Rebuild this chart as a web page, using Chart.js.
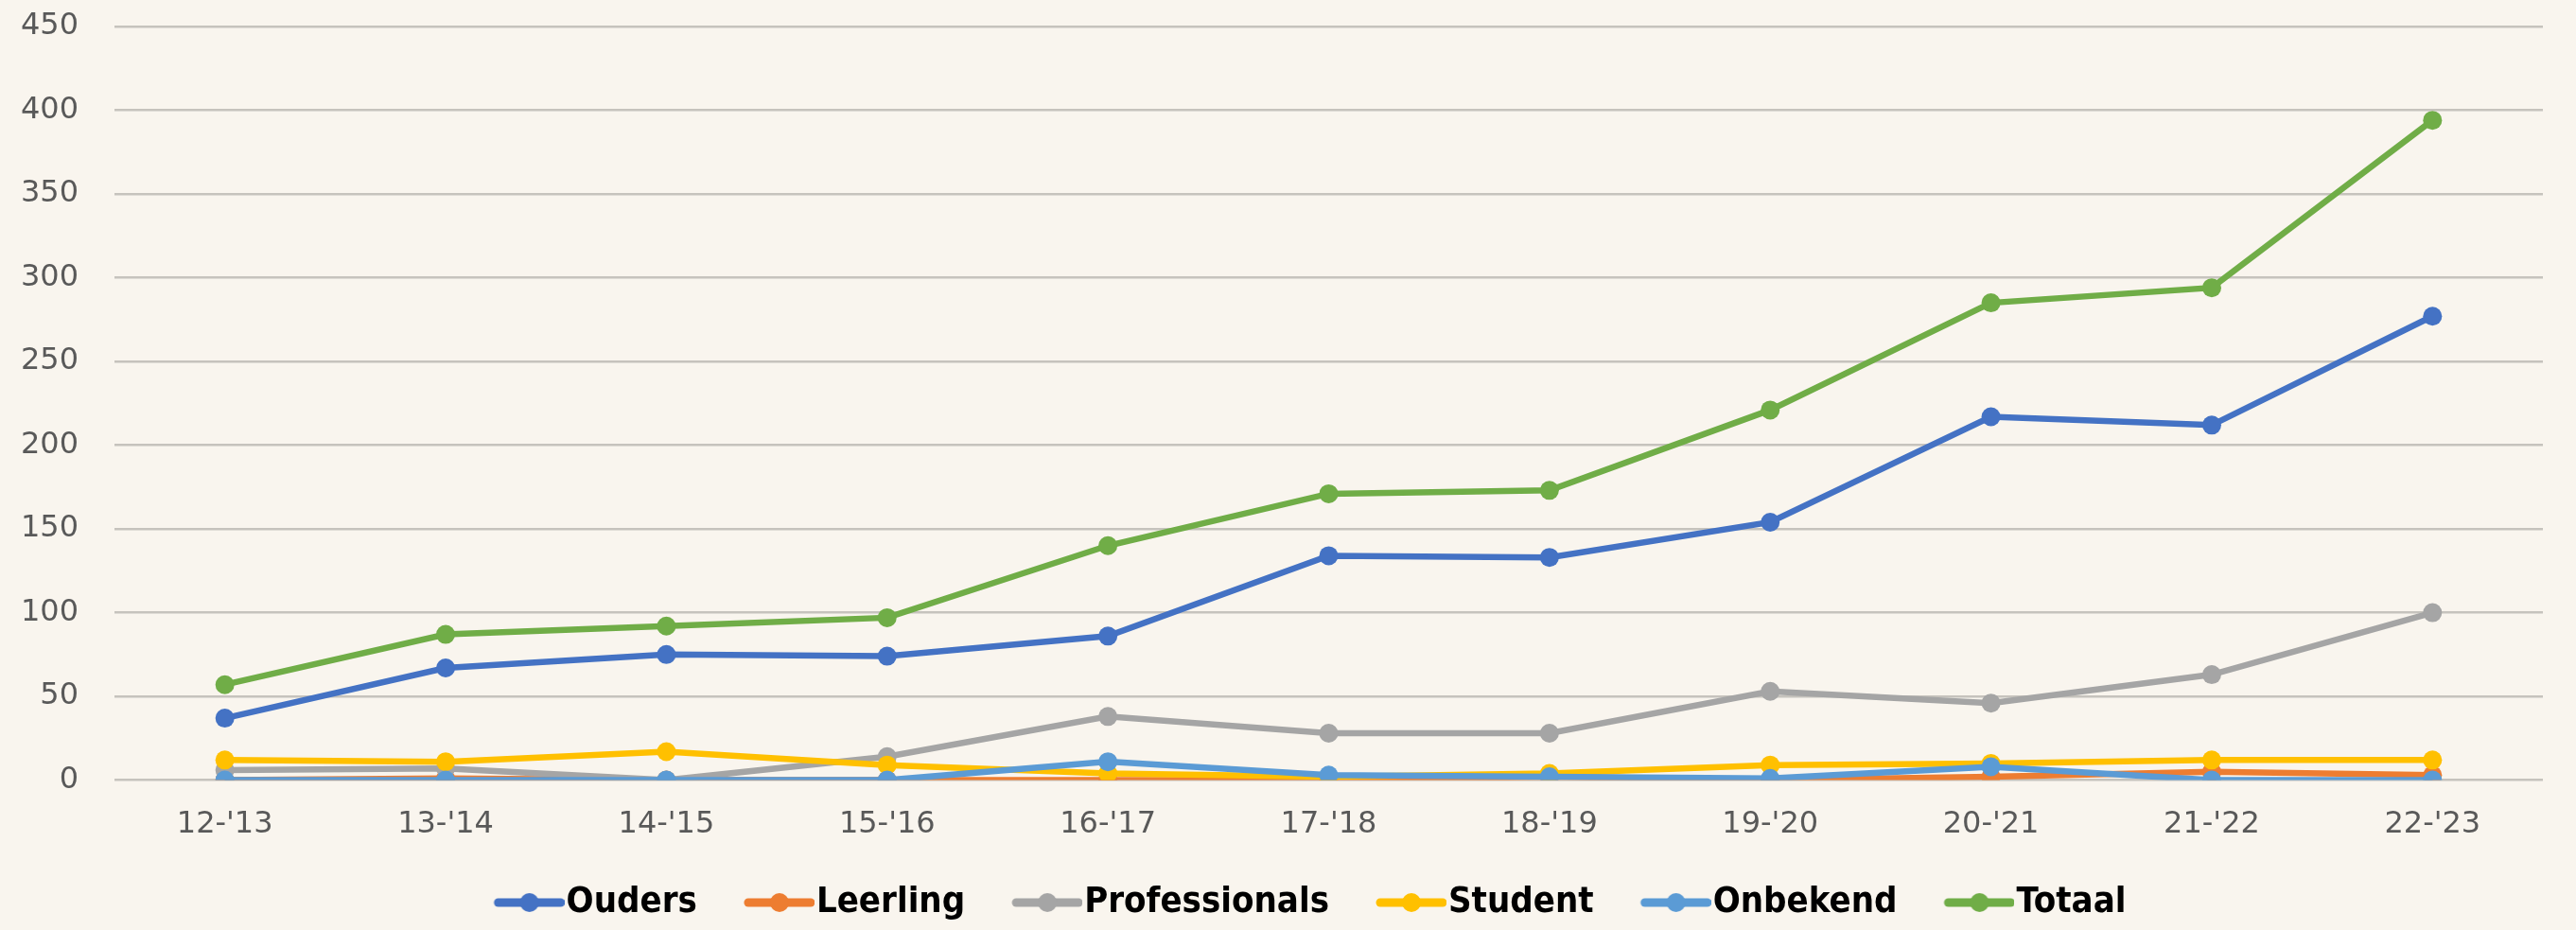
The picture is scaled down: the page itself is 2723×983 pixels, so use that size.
<!DOCTYPE html>
<html>
<head>
<meta charset="utf-8">
<script src="https://cdn.jsdelivr.net/npm/chart.js@4.4.1/dist/chart.umd.min.js"></script>
<style>
  html, body { margin: 0; padding: 0; background: #f9f5ee; }
  #wrap { width: 2723px; height: 983px; }
</style>
</head>
<body>
<div id="wrap"><canvas id="grafiek"></canvas></div>
<script>
// schooljaren
const jaren = ["12-'13", "13-'14", "14-'15", "15-'16", "16-'17", "17-'18", "18-'19", "19-'20", "20-'21", "21-'22", "22-'23"];

const ouders        = [37, 67, 75, 74, 86, 134, 133, 154, 217, 212, 277];
const leerling      = [0, 1, 0, 0, 0, 0, 2, 0, 2, 5, 3];
const professionals = [6, 7, 0, 14, 38, 28, 28, 53, 46, 63, 100];
const student       = [12, 11, 17, 9, 4, 2, 4, 9, 10, 12, 12];
const onbekend      = [0, 0, 0, 0, 11, 3, 2, 1, 8, 0, 0];
const totaal        = [57, 87, 92, 97, 140, 171, 173, 221, 285, 294, 394];

const yTicks = { min: 0, max: 450, step: 50 };

const reeksen = [
  { naam: 'Ouders', data: ouders, kleur: '#4472c4' },
  { naam: 'Leerling', data: leerling, kleur: '#ed7d31' },
  { naam: 'Professionals', data: professionals, kleur: '#a5a5a5' },
  { naam: 'Student', data: student, kleur: '#ffc000' },
  { naam: 'Onbekend', data: onbekend, kleur: '#5b9bd5' },
  { naam: 'Totaal', data: totaal, kleur: '#70ad47' }
];

// legend symbool: lijn met punt, lege ruimte links geeft de afstand tussen items
const LEG_FONT = 38;
const LEG_LEEG = 34;
const LEG_LIJN = 74;
const LEG_BOX = LEG_LEEG + LEG_LIJN + 2 - LEG_FONT / 2;
function maakSymbool(kleur) {
  const eind = LEG_BOX + LEG_FONT / 2 - 2;
  const half = eind - LEG_BOX / 2;
  const c = document.createElement('canvas');
  c.width = Math.round(half * 2);
  c.height = 24;
  const g = c.getContext('2d');
  const x1 = c.width, x0 = x1 - LEG_LIJN;
  g.strokeStyle = kleur;
  g.lineWidth = 9;
  g.lineCap = 'round';
  g.beginPath(); g.moveTo(x0 + 4, 12); g.lineTo(x1 - 4, 12); g.stroke();
  g.fillStyle = kleur;
  g.beginPath(); g.arc((x0 + x1) / 2, 12, 10, 0, Math.PI * 2); g.fill();
  return c;
}

const achtergrond = {
  id: 'achtergrond',
  beforeDraw(chart) {
    const ctx = chart.ctx;
    ctx.save();
    ctx.fillStyle = '#f9f5ee';
    ctx.fillRect(0, 0, chart.width, chart.height);
    ctx.restore();
  }
};

// legenda iets naar rechts, zoals in het origineel
const legendaSchuif = {
  id: 'legendaSchuif',
  afterLayout(chart) {
    if (chart.legend) {
      chart.legend.left += 24;
      chart.legend.right += 24;
    }
  }
};

new Chart(document.getElementById('grafiek'), {
  type: 'line',
  data: {
    labels: jaren,
    datasets: reeksen.map((r, i) => ({
      label: r.naam,
      data: r.data,
      borderColor: r.kleur,
      backgroundColor: r.kleur,
      pointBackgroundColor: r.kleur,
      pointBorderColor: r.kleur,
      borderWidth: 6.5,
      pointRadius: 10,
      pointBorderWidth: 0,
      tension: 0,
      order: reeksen.length - i,
      symbool: maakSymbool(r.kleur)
    }))
  },
  options: {
    responsive: true,
    maintainAspectRatio: false,
    animation: false,
    layout: { padding: { top: 28, right: 35, left: 0, bottom: 0 } },
    scales: {
      x: {
        offset: true,
        grid: { display: false },
        border: { display: false },
        ticks: { color: '#595959', padding: 20, font: { family: 'DejaVu Sans', size: 32 }, maxRotation: 0 },
        afterFit(scale) { scale.height += 8; }
      },
      y: {
        min: yTicks.min,
        max: yTicks.max,
        ticks: { stepSize: yTicks.step, color: '#595959', padding: 0, font: { family: 'DejaVu Sans', size: 32 } },
        grid: { color: '#c6c3bd', lineWidth: 2.5, drawTicks: true, tickLength: 38, tickColor: 'rgba(0,0,0,0)' },
        border: { display: false },
        afterFit(scale) { scale.width = 121; }
      }
    },
    plugins: {
      tooltip: { enabled: false },
      legend: {
        position: 'bottom',
        labels: {
          usePointStyle: true,
          pointStyleWidth: LEG_BOX,
          padding: 16,
          color: '#000000',
          font: { family: "'Liberation Sans Narrow', 'DejaVu Sans Condensed', sans-serif", size: LEG_FONT, weight: 'bold' },
          generateLabels(chart) {
            return chart.data.datasets.map((ds, i) => ({
              text: ds.label,
              pointStyle: ds.symbool,
              fillStyle: ds.borderColor,
              strokeStyle: ds.borderColor,
              lineWidth: 0,
              hidden: false,
              datasetIndex: i,
              fontColor: '#000000'
            }));
          }
        }
      }
    }
  },
  plugins: [achtergrond, legendaSchuif]
});
</script>
</body>
</html>
